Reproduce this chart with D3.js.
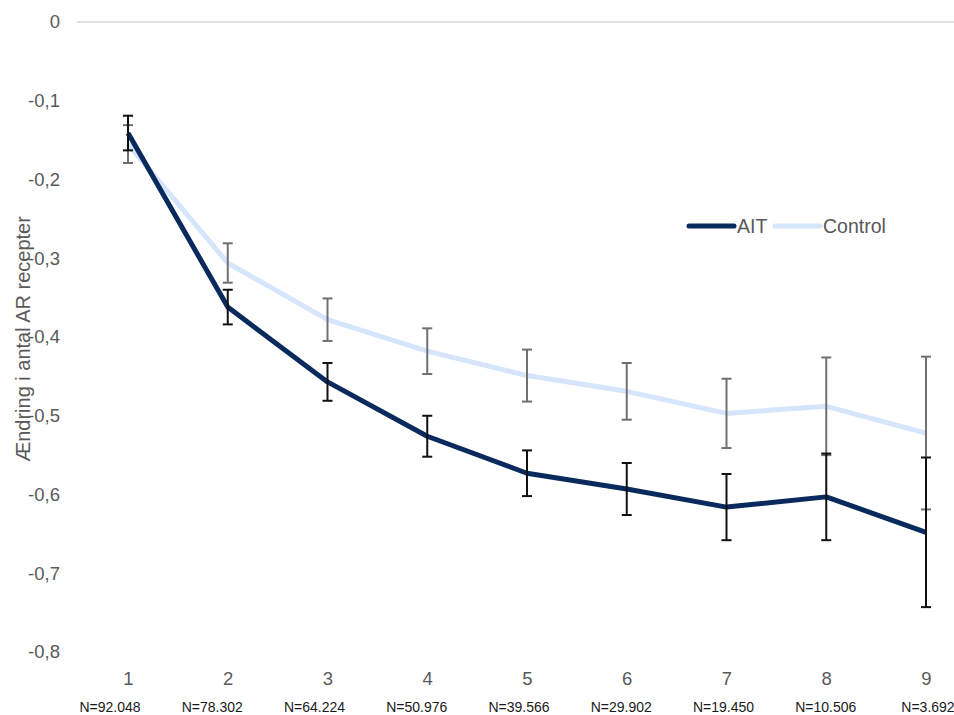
<!DOCTYPE html>
<html>
<head>
<meta charset="utf-8">
<script src="https://cdn.jsdelivr.net/npm/d3@7"></script>
<style>
  body { margin: 0; background: #fff; }
  svg { display: block; font-family: "Liberation Sans", Arial, sans-serif; }
</style>
</head>
<body>
<div id="chart"></div>
<script>
// chart values
const categories = ["1", "2", "3", "4", "5", "6", "7", "8", "9"];
const nLabels = ["N=92.048", "N=78.302", "N=64.224", "N=50.976", "N=39.566", "N=29.902", "N=19.450", "N=10.506", "N=3.692"];
const aitValues = [-0.141, -0.362, -0.457, -0.526, -0.573, -0.593, -0.616, -0.603, -0.648];
const aitErrors = [0.022, 0.022, 0.024, 0.026, 0.029, 0.033, 0.042, 0.055, 0.095];
const controlValues = [-0.155, -0.306, -0.378, -0.418, -0.449, -0.469, -0.497, -0.488, -0.522];
const controlErrors = [0.024, 0.025, 0.027, 0.029, 0.033, 0.036, 0.044, 0.062, 0.097];
const yTicks = [0, -0.1, -0.2, -0.3, -0.4, -0.5, -0.6, -0.7, -0.8];

const width = 954, height = 715;
const textColor = "#595959";
const aitColor = "#0a2a5e";
const controlColor = "#d5e5fb";

const svg = d3.select("#chart").append("svg")
  .attr("width", width)
  .attr("height", height);

const x = d3.scalePoint().domain(categories).range([128, 926]);
const xN = d3.scalePoint().domain(categories).range([110, 928]);
const y = d3.scaleLinear().domain([-0.8, 0]).range([652, 22]);

// zero line
svg.append("line")
  .attr("x1", 77).attr("x2", width)
  .attr("y1", y(0)).attr("y2", y(0))
  .attr("stroke", "#d9d9d9").attr("stroke-width", 1.3);

// y axis labels
const fmt = v => v === 0 ? "0" : d3.format(".1f")(v).replace(".", ",").replace("−", "-");
const yAxis = svg.append("g")
  .attr("transform", "translate(60,0)")
  .call(d3.axisLeft(y).tickValues(yTicks).tickFormat(fmt).tickSize(0).tickPadding(0));
yAxis.select(".domain").remove();
yAxis.selectAll("text")
  .attr("fill", textColor)
  .style("font-size", "18.5px");

// x axis labels
const xAxis = svg.append("g")
  .attr("transform", "translate(0,672)")
  .call(d3.axisBottom(x).tickSize(0).tickPadding(0));
xAxis.select(".domain").remove();
xAxis.selectAll("text")
  .attr("fill", textColor)
  .style("font-size", "18.5px");

svg.append("g").selectAll("text")
  .data(nLabels)
  .join("text")
  .attr("x", (d, i) => xN(categories[i]))
  .attr("y", 712)
  .attr("text-anchor", "middle")
  .attr("fill", "#1a1a1a")
  .style("font-size", "14px")
  .text(d => d);

// y title
svg.append("text")
  .attr("transform", "translate(30,339) rotate(-90)")
  .attr("text-anchor", "middle")
  .attr("fill", textColor)
  .style("font-size", "20px")
  .text("Ændring i antal AR recepter");

const series = [
  { name: "Control", values: controlValues, errors: controlErrors, color: controlColor, barColor: "#707070" },
  { name: "AIT", values: aitValues, errors: aitErrors, color: aitColor, barColor: "#111" }
];

const line = d3.line()
  .x((d, i) => x(categories[i]))
  .y(d => y(d));

series.forEach(s => {
  svg.append("path")
    .datum(s.values)
    .attr("fill", "none")
    .attr("stroke", s.color)
    .attr("stroke-width", 5)
    .attr("stroke-linejoin", "round")
    .attr("d", line);
});

series.forEach(s => {
  const g = svg.append("g").attr("stroke", s.barColor).attr("stroke-width", 2);
  s.values.forEach((v, i) => {
    const cx = x(categories[i]);
    const top = y(v + s.errors[i]);
    const bottom = y(v - s.errors[i]);
    g.append("line").attr("x1", cx).attr("x2", cx).attr("y1", top).attr("y2", bottom);
    g.append("line").attr("x1", cx - 5).attr("x2", cx + 5).attr("y1", top).attr("y2", top);
    g.append("line").attr("x1", cx - 5).attr("x2", cx + 5).attr("y1", bottom).attr("y2", bottom);
  });
});

// legend
const legend = svg.append("g").attr("transform", "translate(689,226)");
const legendItems = [
  { name: "AIT", color: aitColor, x: 0 },
  { name: "Control", color: controlColor, x: 86 }
];
legendItems.forEach(item => {
  legend.append("line")
    .attr("x1", item.x).attr("x2", item.x + 45)
    .attr("y1", 0).attr("y2", 0)
    .attr("stroke", item.color)
    .attr("stroke-width", 5)
    .attr("stroke-linecap", "round");
  legend.append("text")
    .attr("x", item.x + 48)
    .attr("y", 7)
    .attr("fill", textColor)
    .style("font-size", "19.5px")
    .text(item.name);
});
</script>
</body>
</html>
